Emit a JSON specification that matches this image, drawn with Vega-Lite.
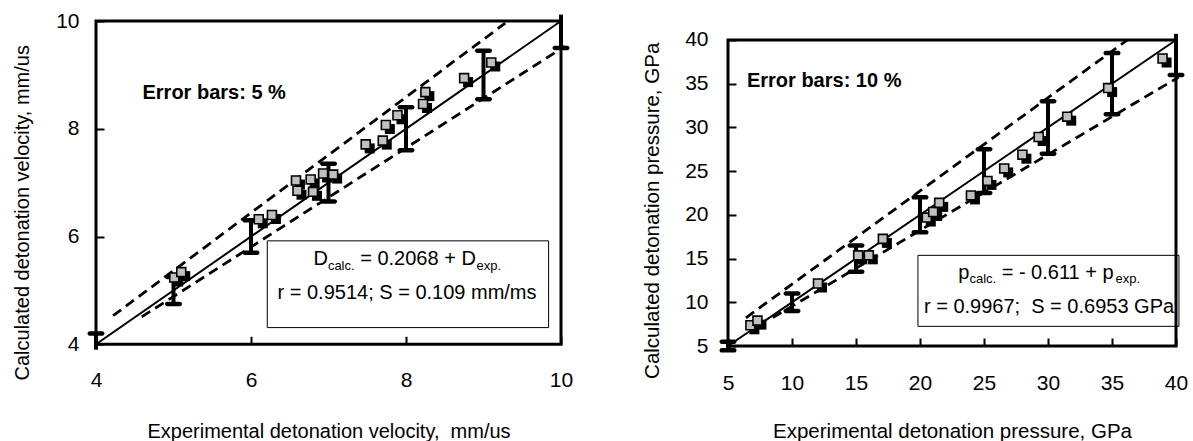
{
  "$schema": "https://vega.github.io/schema/vega-lite/v6.json",
  "background": "white",
  "padding": {"left": 11, "top": 10, "right": 5, "bottom": 0},
  "bounds": "flush",
  "spacing": 167,
  "config": {
    "view": {"stroke": null},
    "axis": {
      "grid": false, "domain": false, "tickSize": -8, "tickWidth": 2, "tickColor": "black", "labelFlush": false,
      "labelFont": "Liberation Sans", "labelFontSize": 21, "labelColor": "black",
      "titleFont": "Liberation Sans", "titleFontSize": 20, "titleFontWeight": "normal", "titleColor": "black"
    }
  },
  "datasets": {
    "leftPts": [
      {"x": 5.01, "y": 5.24}, {"x": 5.10, "y": 5.34}, {"x": 6.10, "y": 6.32}, {"x": 6.27, "y": 6.40},
      {"x": 6.58, "y": 7.04}, {"x": 6.60, "y": 6.85}, {"x": 6.77, "y": 7.06}, {"x": 6.80, "y": 6.83},
      {"x": 6.93, "y": 7.17}, {"x": 7.06, "y": 7.15}, {"x": 7.48, "y": 7.71}, {"x": 7.70, "y": 7.78},
      {"x": 7.74, "y": 8.07}, {"x": 7.89, "y": 8.25}, {"x": 8.25, "y": 8.68}, {"x": 8.22, "y": 8.46},
      {"x": 8.75, "y": 8.94}, {"x": 9.10, "y": 9.23}
    ],
    "rightPts": [
      {"x": 6.75, "y": 7.37}, {"x": 7.30, "y": 7.90}, {"x": 12.03, "y": 12.15}, {"x": 15.17, "y": 15.37},
      {"x": 16.0, "y": 15.37}, {"x": 17.1, "y": 17.25}, {"x": 20.53, "y": 19.69}, {"x": 21.03, "y": 20.33},
      {"x": 21.5, "y": 21.37}, {"x": 23.98, "y": 22.22}, {"x": 25.27, "y": 23.88}, {"x": 26.58, "y": 25.31},
      {"x": 28.0, "y": 26.88}, {"x": 29.27, "y": 28.9}, {"x": 31.5, "y": 31.23}, {"x": 34.7, "y": 34.5},
      {"x": 38.95, "y": 37.88}
    ],
    "leftLines": [
      {"series": "fit", "x": 4, "y": 4}, {"series": "fit", "x": 10, "y": 10},
      {"series": "upper", "x": 4.22, "y": 4.53}, {"series": "upper", "x": 9.28, "y": 9.96},
      {"series": "lower", "x": 4.59, "y": 4.51}, {"series": "lower", "x": 10.05, "y": 9.53}
    ],
    "rightLines": [
      {"series": "fit", "x": 5, "y": 5}, {"series": "fit", "x": 40, "y": 40},
      {"series": "upper", "x": 6.4, "y": 8.23}, {"series": "upper", "x": 36.2, "y": 40},
      {"series": "lower", "x": 8.5, "y": 8.25}, {"series": "lower", "x": 40.2, "y": 35.74}
    ],
    "leftErr": [
      {"x": 4, "y": 3.9, "y2": 4.2}, {"x": 5, "y": 4.75, "y2": 5.25}, {"x": 6, "y": 5.7, "y2": 6.3},
      {"x": 7, "y": 6.65, "y2": 7.35}, {"x": 8, "y": 7.6, "y2": 8.4}, {"x": 9, "y": 8.55, "y2": 9.45},
      {"x": 10, "y": 9.5, "y2": 10.12}
    ],
    "leftCaps": [
      {"x": 4, "y": 4.2}, {"x": 5, "y": 4.75}, {"x": 5, "y": 5.25}, {"x": 6, "y": 5.7}, {"x": 6, "y": 6.3},
      {"x": 7, "y": 6.65}, {"x": 7, "y": 7.35}, {"x": 8, "y": 7.6}, {"x": 8, "y": 8.4},
      {"x": 9, "y": 8.55}, {"x": 9, "y": 9.45}, {"x": 10, "y": 9.5}
    ],
    "rightErr": [
      {"x": 5, "y": 4.5, "y2": 5.5}, {"x": 10, "y": 9, "y2": 11}, {"x": 15, "y": 13.5, "y2": 16.5},
      {"x": 20, "y": 18, "y2": 22}, {"x": 25, "y": 22.5, "y2": 27.5}, {"x": 30, "y": 27, "y2": 33},
      {"x": 35, "y": 31.5, "y2": 38.5}, {"x": 40, "y": 36, "y2": 40.7}
    ],
    "rightCaps": [
      {"x": 5, "y": 4.5}, {"x": 5, "y": 5.5}, {"x": 10, "y": 9}, {"x": 10, "y": 11}, {"x": 15, "y": 13.5},
      {"x": 15, "y": 16.5}, {"x": 20, "y": 18}, {"x": 20, "y": 22}, {"x": 25, "y": 22.5}, {"x": 25, "y": 27.5},
      {"x": 30, "y": 27}, {"x": 30, "y": 33}, {"x": 35, "y": 31.5}, {"x": 35, "y": 38.5}, {"x": 40, "y": 36}
    ],
    "leftBox": [{"x": 6.21, "x2": 9.84, "y": 4.31, "y2": 5.92}],
    "rightBox": [{"x": 19.84, "x2": 40.23, "y": 7.25, "y2": 15.37}],
    "leftFrame": [{"x": 4, "x2": 10, "y": 4, "y2": 10}],
    "rightFrame": [{"x": 5, "x2": 40, "y": 5, "y2": 40}],
    "leftText": [
      {"role": "label", "x": 4.60, "y": 8.55, "text": "Error bars: 5 %"},
      {"role": "main", "x": 6.806, "y": 5.468, "text": "D"},
      {"role": "sub", "x": 6.992, "y": 5.375, "text": "calc."},
      {"role": "main", "x": 7.409, "y": 5.468, "text": "= 0.2068 + D"},
      {"role": "sub", "x": 8.910, "y": 5.375, "text": "exp."},
      {"role": "line2", "x": 8.013, "y": 4.837, "text": "r = 0.9514; S = 0.109 mm/ms"}
    ],
    "rightText": [
      {"role": "label", "x": 6.48, "y": 34.59, "text": "Error bars: 10 %"},
      {"role": "main", "x": 22.99, "y": 12.63, "text": "p"},
      {"role": "sub", "x": 23.86, "y": 12.17, "text": "calc."},
      {"role": "main", "x": 26.38, "y": 12.63, "text": "= - 0.611 + p"},
      {"role": "sub", "x": 35.28, "y": 12.17, "text": "exp."},
      {"role": "line2", "x": 30.08, "y": 8.74, "text": "r = 0.9967;\u00a0 S = 0.6953 GPa"}
    ]
  },
  "hconcat": [
    {
      "width": 465, "height": 323.3,
      "encoding": {
        "x": {"field": "x", "type": "quantitative",
          "scale": {"domain": [4, 10], "nice": false, "zero": false},
          "axis": {"values": [4, 6, 8, 10], "title": "Experimental detonation velocity,\u00a0 mm/us",
            "labelPadding": 33, "titleY": 93.5, "titleBaseline": "alphabetic"}},
        "y": {"field": "y", "type": "quantitative",
          "scale": {"domain": [4, 10], "nice": false, "zero": false},
          "axis": {"values": [4, 6, 8, 10], "title": "Calculated detonation velocity, mm/us",
            "labelPadding": 25, "titleX": -74, "titleY": 191.3, "titleBaseline": "middle", "titleAlign": "center"}}
      },
      "layer": [
        {"data": {"name": "leftBox"}, "mark": {"type": "rect", "fill": "white", "stroke": "black", "strokeWidth": 1},
          "encoding": {"x2": {"field": "x2"}, "y2": {"field": "y2"}}},
        {"data": {"name": "leftLines"}, "transform": [{"filter": "datum.series === 'fit'"}],
          "mark": {"type": "line", "color": "black", "strokeWidth": 2}, "encoding": {"detail": {"field": "series"}}},
        {"data": {"name": "leftLines"}, "transform": [{"filter": "datum.series !== 'fit'"}],
          "mark": {"type": "line", "color": "black", "strokeWidth": 2.8, "strokeDash": [10, 6]}, "encoding": {"detail": {"field": "series"}}},
        {"data": {"name": "leftErr"}, "mark": {"type": "rule", "color": "black", "strokeWidth": 4},
          "encoding": {"y2": {"field": "y2"}}},
        {"data": {"name": "leftCaps"}, "mark": {"type": "tick", "orient": "horizontal", "color": "black", "size": 17, "thickness": 4.5, "cornerRadius": 2.2, "opacity": 1}},
        {"data": {"name": "leftPts"}, "mark": {"type": "square", "size": 100, "filled": true, "color": "black", "opacity": 1, "xOffset": 4, "yOffset": 4}},
        {"data": {"name": "leftPts"}, "mark": {"type": "square", "size": 80, "filled": true, "fill": "#c0c0c0", "stroke": "black", "strokeWidth": 1.6, "opacity": 1}},
        {"data": {"name": "leftText"}, "transform": [{"filter": "datum.role === 'label'"}],
          "mark": {"type": "text", "align": "left", "baseline": "alphabetic", "font": "Liberation Sans", "fontWeight": "bold", "fontSize": 20, "color": "black"},
          "encoding": {"text": {"field": "text"}}},
        {"data": {"name": "leftText"}, "transform": [{"filter": "datum.role === 'main'"}],
          "mark": {"type": "text", "align": "left", "baseline": "alphabetic", "font": "Liberation Sans", "fontSize": 20, "color": "black"},
          "encoding": {"text": {"field": "text"}}},
        {"data": {"name": "leftText"}, "transform": [{"filter": "datum.role === 'sub'"}],
          "mark": {"type": "text", "align": "left", "baseline": "alphabetic", "font": "Liberation Sans", "fontSize": 13, "color": "black"},
          "encoding": {"text": {"field": "text"}}},
        {"data": {"name": "leftText"}, "transform": [{"filter": "datum.role === 'line2'"}],
          "mark": {"type": "text", "align": "center", "baseline": "alphabetic", "font": "Liberation Sans", "fontSize": 20, "color": "black"},
          "encoding": {"text": {"field": "text"}}},
        {"data": {"name": "leftFrame"}, "mark": {"type": "rect", "filled": false, "stroke": "black", "strokeWidth": 3},
          "encoding": {"x2": {"field": "x2"}, "y2": {"field": "y2"}}}
      ]
    },
    {
      "width": 448, "height": 325,
      "encoding": {
        "x": {"field": "x", "type": "quantitative",
          "scale": {"domain": [5, 40], "nice": false, "zero": false},
          "axis": {"values": [5, 10, 15, 20, 25, 30, 35, 40], "title": "Experimental detonation pressure, GPa",
            "labelPadding": 34, "titleY": 91.8, "titleBaseline": "alphabetic", "titleFontSize": 20.5}},
        "y": {"field": "y", "type": "quantitative",
          "scale": {"domain": [5, 42.17], "nice": false, "zero": false},
          "axis": {"values": [5, 10, 15, 20, 25, 30, 35, 40], "title": "Calculated detonation pressure, GPa",
            "labelPadding": 28, "titleX": -76, "titleY": 189.3, "titleBaseline": "middle", "titleAlign": "center", "titleFontSize": 20.5}}
      },
      "layer": [
        {"data": {"name": "rightBox"}, "mark": {"type": "rect", "fill": "white", "stroke": "black", "strokeWidth": 1},
          "encoding": {"x2": {"field": "x2"}, "y2": {"field": "y2"}}},
        {"data": {"name": "rightLines"}, "transform": [{"filter": "datum.series === 'fit'"}],
          "mark": {"type": "line", "color": "black", "strokeWidth": 2}, "encoding": {"detail": {"field": "series"}}},
        {"data": {"name": "rightLines"}, "transform": [{"filter": "datum.series !== 'fit'"}],
          "mark": {"type": "line", "color": "black", "strokeWidth": 2.8, "strokeDash": [10, 6]}, "encoding": {"detail": {"field": "series"}}},
        {"data": {"name": "rightErr"}, "mark": {"type": "rule", "color": "black", "strokeWidth": 4},
          "encoding": {"y2": {"field": "y2"}}},
        {"data": {"name": "rightCaps"}, "mark": {"type": "tick", "orient": "horizontal", "color": "black", "size": 17, "thickness": 4.5, "cornerRadius": 2.2, "opacity": 1}},
        {"data": {"name": "rightPts"}, "mark": {"type": "square", "size": 100, "filled": true, "color": "black", "opacity": 1, "xOffset": 4, "yOffset": 4}},
        {"data": {"name": "rightPts"}, "mark": {"type": "square", "size": 80, "filled": true, "fill": "#c0c0c0", "stroke": "black", "strokeWidth": 1.6, "opacity": 1}},
        {"data": {"name": "rightText"}, "transform": [{"filter": "datum.role === 'label'"}],
          "mark": {"type": "text", "align": "left", "baseline": "alphabetic", "font": "Liberation Sans", "fontWeight": "bold", "fontSize": 20, "color": "black"},
          "encoding": {"text": {"field": "text"}}},
        {"data": {"name": "rightText"}, "transform": [{"filter": "datum.role === 'main'"}],
          "mark": {"type": "text", "align": "left", "baseline": "alphabetic", "font": "Liberation Sans", "fontSize": 20, "color": "black"},
          "encoding": {"text": {"field": "text"}}},
        {"data": {"name": "rightText"}, "transform": [{"filter": "datum.role === 'sub'"}],
          "mark": {"type": "text", "align": "left", "baseline": "alphabetic", "font": "Liberation Sans", "fontSize": 13, "color": "black"},
          "encoding": {"text": {"field": "text"}}},
        {"data": {"name": "rightText"}, "transform": [{"filter": "datum.role === 'line2'"}],
          "mark": {"type": "text", "align": "center", "baseline": "alphabetic", "font": "Liberation Sans", "fontSize": 20, "color": "black"},
          "encoding": {"text": {"field": "text"}}},
        {"data": {"name": "rightFrame"}, "mark": {"type": "rect", "filled": false, "stroke": "black", "strokeWidth": 3},
          "encoding": {"x2": {"field": "x2"}, "y2": {"field": "y2"}}}
      ]
    }
  ]
}
